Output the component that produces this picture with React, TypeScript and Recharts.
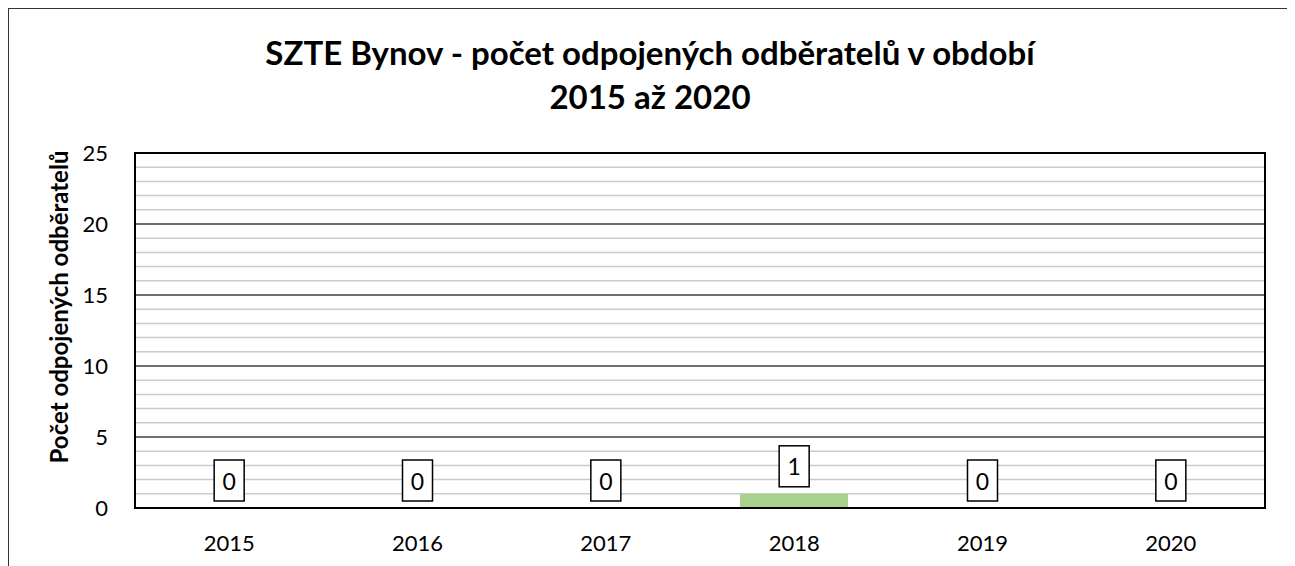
import React from 'react';
import { ComposedChart, Bar, Line, XAxis, YAxis, CartesianGrid, ReferenceArea } from 'recharts';

const years = ['2015', '2016', '2017', '2018', '2019', '2020'];
const disconnected = [0, 0, 0, 1, 0, 0];
const majorTicks = [0, 5, 10, 15, 20, 25];
const minorTicks = [1, 2, 3, 4, 6, 7, 8, 9, 11, 12, 13, 14, 16, 17, 18, 19, 21, 22, 23, 24];
const titleLines = ['SZTE Bynov - počet odpojených odběratelů v období', '2015 až 2020'];
const yAxisTitle = 'Počet odpojených odběratelů';

const data = years.map((y, i) => ({ year: y, value: disconnected[i] }));

const FONT = 'Lato, "Open Sans", sans-serif';

const BoxLabel = (props: any) => {
  const { x, y, value } = props;
  const cx = Number(x);
  const bottom = Number(y) - 7;
  return (
    <g>
      <rect x={cx - 15} y={bottom - 41} width={30} height={41} fill="#fff" stroke="#000" strokeWidth={1.5} />
      <text x={cx} y={bottom - 20.5} textAnchor="middle" dominantBaseline="central" fontSize={23} fontFamily={FONT} fill="#000">
        {value}
      </text>
    </g>
  );
};

const YTitle = () => (
  <text
    x={49}
    y={298}
    transform="rotate(-90 49 298)"
    textAnchor="middle"
    dominantBaseline="central"
    fontWeight="bold"
    fontSize={24}
    fontFamily={FONT}
    fill="#000"
  >
    {yAxisTitle}
  </text>
);

export default function App() {
  return (
    <div
      style={{
        position: 'relative',
        width: 1278,
        height: 557,
        borderTop: '1px solid #333',
        borderLeft: '1px solid #333',
        borderRight: '1px solid #333',
        background: '#fff',
        overflow: 'hidden',
        fontFamily: FONT,
      }}
    >
      <div
        style={{
          position: 'absolute',
          top: 21,
          left: 0,
          width: 1282,
          textAlign: 'center',
          fontWeight: 'bold',
          fontSize: 33,
          lineHeight: '44px',
          color: '#000',
        }}
      >
        <div>{titleLines[0]}</div>
        <div>{titleLines[1]}</div>
      </div>
      <ComposedChart
        width={1278}
        height={557}
        data={data}
        margin={{ top: 144, right: 22, left: 0, bottom: 0 }}
        style={{ position: 'absolute', top: 0, left: 0 }}
      >
        <CartesianGrid vertical={false} horizontalValues={minorTicks} stroke="#cccccc" strokeWidth={1.5} />
        <CartesianGrid vertical={false} horizontalValues={majorTicks} stroke="#404040" strokeWidth={1.5} />
        <XAxis
          dataKey="year"
          height={58}
          tickLine={false}
          tickSize={0}
          tickMargin={27}
          axisLine={{ stroke: '#000', strokeWidth: 2 }}
          tick={{ fontSize: 22, fill: '#000', fontFamily: FONT }}
        />
        <YAxis
          domain={[0, 25]}
          ticks={majorTicks}
          width={126}
          tickLine={false}
          tickSize={0}
          tickMargin={27}
          axisLine={false}
          interval={0}
          tick={{ fontSize: 22, fill: '#000', fontFamily: FONT }}
          label={{ content: <YTitle /> }}
        />
        <ReferenceArea y1={0} y2={25} fill="none" stroke="#000" strokeWidth={2} ifOverflow="visible" />
        <Bar dataKey="value" fill="#a9d18e" barSize={108} isAnimationActive={false} />
        <Line
          dataKey="value"
          stroke="none"
          dot={false}
          activeDot={false}
          legendType="none"
          isAnimationActive={false}
          label={<BoxLabel />}
        />
      </ComposedChart>
    </div>
  );
}
